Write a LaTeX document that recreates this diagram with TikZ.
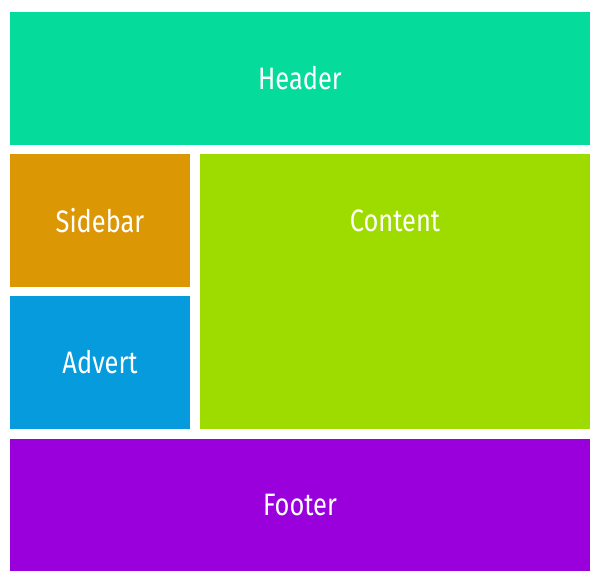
\documentclass[tikz,border=0pt]{standalone}
\usepackage{fontspec}
\setmainfont[FakeStretch=0.82]{Fira Sans}
\usepackage{xcolor}
\usepackage{tikz}
\usetikzlibrary{positioning}
\definecolor{headergreen}{RGB}{5,220,156}
\definecolor{sidebarorange}{RGB}{220,151,4}
\definecolor{advertblue}{RGB}{5,155,220}
\definecolor{contentlime}{RGB}{158,220,0}
\definecolor{footerpurple}{RGB}{154,0,220}

\begin{document}
\begin{tikzpicture}[
    x=1pt, y=-1pt,
    % Box styles
    box/.style={rectangle, inner sep=0pt, outer sep=0pt, font=\fontsize{31}{36}\selectfont, text=white},
    wide/.style={box, minimum width=580pt, minimum height=133pt},
    small/.style={box, minimum width=180pt, minimum height=133pt},
    % Label style
    caption/.style={font=\fontsize{31}{36}\selectfont, text=white, inner sep=0pt}
]

\useasboundingbox (0,0) rectangle (602,586);

% Top row
\node[wide, fill=headergreen] (header) at (300,78.5) {Header};

% Middle rows
\node[small, fill=sidebarorange] (sidebar) at (100,220.5) {Sidebar};
\node[small, fill=advertblue] (advert) at (100,362.5) {Advert};
\node[box, fill=contentlime, minimum width=390pt, minimum height=275pt] (content) at (395,291.5) {};
\node[caption] (contentlabel) at (395,220.5) {Content};

% Bottom row
\node[wide, fill=footerpurple, minimum height=132pt] (footer) at (300,505) {Footer};

\end{tikzpicture}
\end{document}
